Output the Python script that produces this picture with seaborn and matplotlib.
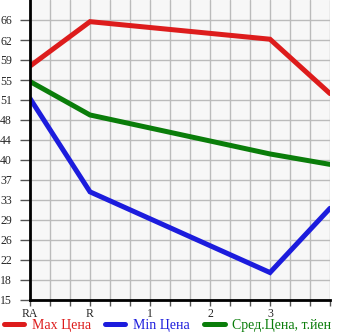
import matplotlib
matplotlib.use("Agg")
import matplotlib.pyplot as plt
import seaborn as sns
import numpy as np
import pandas as pd

x_labels = ["RA", "R", "1", "2", "3", ""]
x_pos = [0, 1, 4, 5]
max_price = [57.6, 65.7, 62.5, 52.6]
min_price = [51.7, 34.7, 20.0, 31.7]
avg_price = [54.8, 48.7, 41.6, 39.7]
y_tick_labels = ["15", "18", "22", "26", "29", "33", "37", "40", "44", "48", "51", "55", "59", "62", "66"]
series_names = ["Max Цена", "Min Цена", "Сред.Цена, т.йен"]
colors = ["#dd1c1c", "#1c1cdd", "#0a7d0a"]

sns.set_style("white")
plt.rcParams['font.family'] = ['Liberation Serif', 'DejaVu Serif']

rows = []
for name, vals in zip(series_names, [max_price, min_price, avg_price]):
    for x, v in zip(x_pos, vals):
        rows.append({"x": x, "value": v, "series": name})
df = pd.DataFrame(rows)

fig = plt.figure(figsize=(3.45, 3.35), dpi=100)
ax = fig.add_axes([30/345, 35/335, 300/345, 300/335])
ax.set_facecolor("#f7f7f7")

step = 51/14
ylo, yhi = 15, 15 + 15*step
ax.set_xlim(0, 5)
ax.set_ylim(ylo, yhi)

ax.set_xticks(np.arange(0, 5.001, 1/3), minor=True)
ax.set_xticks(range(6))
ax.set_xticklabels(x_labels)
yt = [15 + i*step for i in range(15)]
ax.set_yticks(yt)
ax.set_yticklabels(y_tick_labels)
ax.grid(True, which="both", color="#bbbbbb", linewidth=1.0)
ax.set_axisbelow(True)

sns.lineplot(data=df, x="x", y="value", hue="series", palette=colors,
             linewidth=3.6, ax=ax, legend=False, solid_capstyle="round",
             solid_joinstyle="miter", sort=False)

for s in ["top", "right"]:
    ax.spines[s].set_visible(False)
for s in ["left", "bottom"]:
    ax.spines[s].set_color("black")
    ax.spines[s].set_linewidth(2)

ax.tick_params(axis="y", which="major", length=7, width=1, color="#555555",
               labelsize=8.5, pad=6, direction="out", left=True)
ax.tick_params(axis="x", which="both", length=4, width=1, color="#555555",
               labelsize=8.5, pad=2, direction="out", bottom=True)
ax.set_xlabel("")
ax.set_ylabel("")

from matplotlib.lines import Line2D
handles = [Line2D([0], [0], color=c, linewidth=3.6, solid_capstyle="round") for c in colors]
leg = fig.legend(handles, series_names, loc="lower left", bbox_to_anchor=(-0.005, -0.008),
                 ncol=3, frameon=False, fontsize=10, handlelength=1.45,
                 handletextpad=0.55, columnspacing=1.05, borderaxespad=0)
for t, c in zip(leg.get_texts(), colors):
    t.set_color(c)

fig.savefig("out.png", dpi=100)
